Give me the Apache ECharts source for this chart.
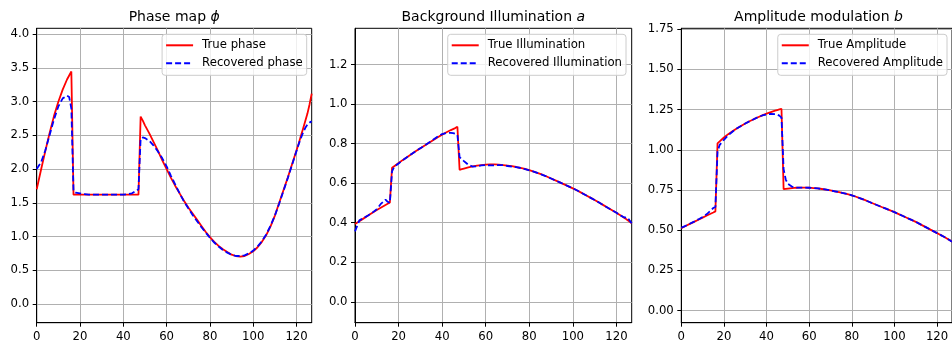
<!DOCTYPE html>
<html><head><meta charset="utf-8">
<script src="https://cdn.jsdelivr.net/npm/echarts@6/dist/echarts.min.js"></script>
<style>html,body{margin:0;padding:0;background:#fff}#c{width:952px;height:346px}</style>
</head><body><div id="c"></div>
<script>
// sample positions (pixel index)
const X = [0,2,4,6,8,10,12,14,15,16,17,18,20,22,24,26,28,30,32,34,36,38,40,42,44,45,46,47,48,49,50,52,54,56,58,60,62,64,66,68,70,72,74,76,78,80,82,84,86,88,90,92,94,96,98,100,102,104,106,108,110,112,114,116,118,120,121,122,123,124,125,126,127];

const phaseTrue = [1.70,1.99,2.27,2.54,2.79,3.00,3.18,3.33,3.39,3.45,
  1.62,1.62,1.62,1.62,1.62,1.62,1.62,1.62,1.62,1.62,1.62,1.62,1.62,1.62,1.62,1.62,1.62,1.62,
  2.78,2.72,2.65,2.53,2.40,2.27,2.13,2.00,1.87,1.75,1.64,1.53,1.43,1.34,1.25,1.16,1.07,0.99,0.92,0.86,0.81,0.77,0.73,0.71,0.70,0.71,0.74,0.78,0.84,0.92,1.02,1.15,1.31,1.50,1.69,1.88,2.08,2.28,2.38,2.49,2.60,2.71,2.82,2.96,3.12];
const phaseRec = [2.00,2.10,2.28,2.51,2.74,2.93,3.05,3.09,3.07,2.90,
  1.67,1.65,1.64,1.63,1.62,1.62,1.62,1.62,1.62,1.62,1.62,1.62,1.62,1.63,1.64,1.66,1.68,1.70,
  2.45,2.47,2.46,2.42,2.35,2.26,2.16,2.04,1.90,1.77,1.64,1.52,1.42,1.32,1.23,1.14,1.06,0.98,0.91,0.85,0.80,0.76,0.73,0.71,0.71,0.72,0.75,0.79,0.85,0.93,1.03,1.16,1.31,1.49,1.68,1.87,2.07,2.27,2.37,2.46,2.54,2.61,2.66,2.69,2.71];

const illumTrue = [0.393,0.408,0.422,0.436,0.450,0.464,0.477,0.490,0.496,0.502,
  0.678,0.686,0.702,0.718,0.733,0.748,0.763,0.777,0.791,0.805,0.819,0.833,0.846,0.858,0.869,0.874,0.879,0.886,
  0.668,0.671,0.674,0.680,0.685,0.689,0.692,0.694,0.695,0.695,0.694,0.692,0.689,0.686,0.682,0.677,0.672,0.666,0.659,0.651,0.643,0.634,0.624,0.614,0.604,0.594,0.584,0.574,0.563,0.551,0.539,0.527,0.515,0.502,0.489,0.476,0.463,0.450,0.443,0.436,0.429,0.422,0.414,0.406,0.397];
const illumRec = [0.356,0.412,0.424,0.437,0.451,0.468,0.497,0.517,0.506,0.500,
  0.660,0.683,0.700,0.717,0.733,0.748,0.763,0.777,0.791,0.806,0.821,0.836,0.849,0.854,0.855,0.853,0.850,0.845,
  0.732,0.722,0.712,0.693,0.684,0.686,0.690,0.692,0.690,0.690,0.692,0.691,0.687,0.684,0.681,0.677,0.671,0.665,0.659,0.651,0.642,0.634,0.624,0.614,0.604,0.594,0.584,0.574,0.563,0.551,0.539,0.527,0.515,0.502,0.489,0.476,0.463,0.450,0.443,0.436,0.430,0.426,0.428,0.412,0.397];

const ampTrue = [0.513,0.526,0.539,0.552,0.565,0.578,0.591,0.604,0.610,0.617,
  1.040,1.052,1.076,1.097,1.115,1.132,1.148,1.163,1.177,1.190,1.202,1.214,1.225,1.234,1.243,1.247,1.251,1.255,
  0.755,0.757,0.759,0.762,0.764,0.765,0.765,0.764,0.762,0.760,0.756,0.752,0.747,0.742,0.736,0.730,0.724,0.717,0.708,0.698,0.688,0.677,0.666,0.655,0.644,0.634,0.623,0.612,0.600,0.588,0.576,0.564,0.552,0.538,0.524,0.510,0.496,0.482,0.475,0.468,0.461,0.453,0.445,0.437,0.428];
const ampRec = [0.515,0.527,0.540,0.553,0.567,0.582,0.600,0.625,0.638,0.645,
  0.990,1.030,1.062,1.090,1.112,1.132,1.148,1.163,1.177,1.190,1.203,1.213,1.220,1.223,1.222,1.219,1.212,1.200,
  0.880,0.815,0.788,0.770,0.765,0.765,0.765,0.764,0.762,0.760,0.756,0.752,0.747,0.742,0.736,0.730,0.724,0.717,0.708,0.698,0.688,0.677,0.666,0.655,0.644,0.634,0.623,0.612,0.600,0.588,0.576,0.564,0.552,0.538,0.524,0.510,0.496,0.482,0.475,0.468,0.461,0.453,0.445,0.437,0.428];

// tick labels
const xTicks = [0,20,40,60,80,100,120];
const yTicksPhase = [0.0,0.5,1.0,1.5,2.0,2.5,3.0,3.5,4.0];
const yTicksIllum = [0.0,0.2,0.4,0.6,0.8,1.0,1.2];
const yTicksAmp = [0.00,0.25,0.50,0.75,1.00,1.25,1.50,1.75];

const titles = [['Phase map ', 'ϕ'], ['Background Illumination ', 'a'], ['Amplitude modulation ', 'b']];
const seriesNames = [['True phase','Recovered phase'],['True Illumination','Recovered Illumination'],['True Amplitude','Recovered Amplitude']];
const seriesData = [[phaseTrue, phaseRec],[illumTrue, illumRec],[ampTrue, ampRec]];
const yTickSets = [yTicksPhase, yTicksIllum, yTicksAmp];
const yRanges = [{min:-0.28,max:4.09,dec:1},{min:-0.106,max:1.384,dec:1},{min:-0.075,max:1.755,dec:2}];

const FONT = 'DejaVu Sans';
const gridPos = [
  {left:36.7, right:640.3},
  {left:355, right:320.3},
  {left:681.3, right:-3.8}
];
const legendRight = [645.3, 326, 5];
const titleCenter = [174.2, 493.3, 818.5];

const pairs = (arr) => X.map((x, i) => [x, arr[i]]);

const option = {
  animation: false,
  backgroundColor: '#fff',
  title: titles.map((t, i) => ({
    text: t[0] + '{i|' + t[1] + '}',
    left: titleCenter[i], top: 10, textAlign: 'center', padding: 0,
    textStyle: {fontFamily: FONT, fontSize: 14, fontWeight: 'normal', color: '#000',
      rich: {i: {fontFamily: FONT, fontSize: 14, fontStyle: 'italic', color: '#000'}}}
  })),
  grid: gridPos.map(g => ({left: g.left, right: g.right, top: 28.3, bottom: 23.3, show: true,
    borderColor: '#000', borderWidth: 1, backgroundColor: 'transparent'})),
  legend: seriesNames.map((n, i) => ({
    data: n, orient: 'vertical', right: legendRight[i], top: 34.3,
    itemWidth: 27, itemHeight: 14, itemGap: 4, padding: [4, 4, 5, 3],
    borderColor: '#cccccc', borderWidth: 1, borderRadius: 3, backgroundColor: 'rgba(255,255,255,0.8)',
    itemStyle: {opacity: 0},
    textStyle: {fontFamily: FONT, fontSize: 11.7, lineHeight: 14, color: '#000', padding: [0, 0, 0, 4]},
    selectedMode: false
  })),
  xAxis: [0,1,2].map(i => ({
    type: 'value', gridIndex: i, min: 0, max: 127,
    axisLine: {show: true, onZero: false, lineStyle: {color: '#000', width: 1}},
    axisTick: {show: true, length: 4, customValues: xTicks, lineStyle: {color: '#000', width: 1}},
    axisLabel: {fontFamily: FONT, fontSize: 11.7, color: '#000', margin: 8, customValues: xTicks},
    splitLine: {show: true, lineStyle: {color: '#b0b0b0', width: 1}}
  })),
  yAxis: yRanges.map((r, i) => ({
    type: 'value', gridIndex: i, min: r.min, max: r.max,
    axisLine: {show: true, onZero: false, lineStyle: {color: '#000', width: 1}},
    axisTick: {show: true, length: 4, customValues: yTickSets[i], lineStyle: {color: '#000', width: 1}},
    axisLabel: {fontFamily: FONT, fontSize: 11.7, color: '#000', margin: 7.5, customValues: yTickSets[i],
      formatter: v => v.toFixed(r.dec)},
    splitLine: {show: true, lineStyle: {color: '#b0b0b0', width: 1}}
  })),
  series: []
};
for (let i = 0; i < 3; i++) {
  option.series.push({
    name: seriesNames[i][0], type: 'line', xAxisIndex: i, yAxisIndex: i,
    data: pairs(seriesData[i][0]), symbol: 'none', showSymbol: false,
    lineStyle: {color: '#ff0000', width: 1.8}, itemStyle: {color: '#ff0000'}, z: 2
  });
  option.series.push({
    name: seriesNames[i][1], type: 'line', xAxisIndex: i, yAxisIndex: i,
    data: pairs(seriesData[i][1]), symbol: 'none', showSymbol: false,
    lineStyle: {color: '#0000ff', width: 1.8, type: [6, 3]}, itemStyle: {color: '#0000ff'}, z: 3
  });
}
const chart = echarts.init(document.getElementById('c'));
chart.setOption(option);
</script></body></html>
